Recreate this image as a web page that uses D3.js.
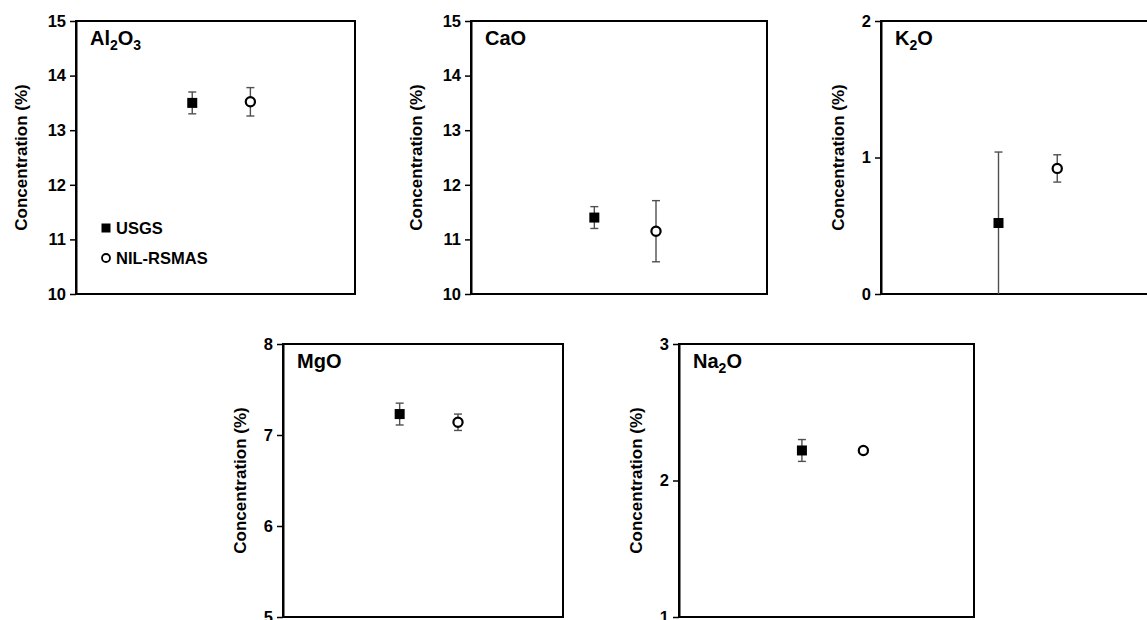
<!DOCTYPE html>
<html>
<head>
<meta charset="utf-8">
<title>Oxide concentrations, USGS vs NIL-RSMAS</title>
<style>
  body { margin: 0; background: #ffffff; }
  svg { display: block; font-family: Arial, "Liberation Sans", sans-serif; font-weight: bold; }
  .axis path, .axis line { stroke: #000; }
  .axis path { stroke-width: 2; }
  .axis line { stroke-width: 1.5; }
  .frame { fill: none; stroke: #000; stroke-width: 2; }
  .err { stroke: #505050; stroke-width: 1.4; }
</style>
</head>
<body>
<div id="chart"></div>
<script src="https://cdn.jsdelivr.net/npm/d3@7"></script>
<script>

// oxides shown, one panel each
var oxides = ["Al2O3", "CaO", "K2O", "MgO", "Na2O"]

// USGS reference values and their uncertainty (%)
var usgsMean = [13.50, 11.40, 0.52, 7.23, 2.22]
var usgsErr  = [0.20, 0.20, 0.52, 0.12, 0.08]

// NIL-RSMAS measured values and their uncertainty (%)
var nilMean = [13.52, 11.15, 0.92, 7.14, 2.22]
var nilErr  = [0.26, 0.56, 0.10, 0.09, 0.02]

// y axis range and tick labels per panel
var yDomains = [[10, 15], [10, 15], [0, 2], [5, 8], [1, 3]]
var yTicks = [
  [10, 11, 12, 13, 14, 15],
  [10, 11, 12, 13, 14, 15],
  [0, 1, 2],
  [5, 6, 7, 8],
  [1, 2, 3]
]

var seriesNames = ["USGS", "NIL-RSMAS"]
var seriesX = [2, 3]   // position of the two sources on the hidden x axis

// panel boxes in pixels
var panels = [
  {x: 76, y: 21, w: 279, h: 273},
  {x: 471, y: 21, w: 296, h: 273},
  {x: 881, y: 21, w: 282, h: 273},
  {x: 283, y: 344, w: 280, h: 273},
  {x: 679, y: 344, w: 295, h: 273}
]

var width = 1147,
    height = 620

var svg = d3.select("#chart")
  .append("svg")
  .attr("width", width)
  .attr("height", height)

oxides.forEach(function (name, i) {
  var p = panels[i]

  var x = d3.scaleLinear().domain([0, 4.8]).range([0, p.w])
  var y = d3.scaleLinear().domain(yDomains[i]).range([p.h, 0])

  var g = svg.append("g")
    .attr("transform", "translate(" + p.x + "," + p.y + ")")

  // left axis with outward ticks
  var axis = g.append("g")
    .attr("class", "axis")
    .call(d3.axisLeft(y).tickValues(yTicks[i]).tickSize(6).tickSizeOuter(0).tickPadding(4).tickFormat(d3.format("d")))
  axis.attr("font-family", null).attr("font-size", null)
  axis.selectAll("text")
    .style("font-size", "16.5px")
    .style("font-weight", "bold")
    .style("fill", "#000")

  // box around the plot
  g.append("rect")
    .attr("class", "frame")
    .attr("width", p.w)
    .attr("height", p.h)

  // y label, pushed further out when ticks have two digits
  var digits = String(d3.max(yTicks[i])).length
  g.append("text")
    .attr("transform", "translate(" + (digits > 1 ? -55 : -43) + "," + (p.h / 2) + ") rotate(-90)")
    .attr("text-anchor", "middle")
    .attr("dy", "0.35em")
    .style("font-size", "17px")
    .text("Concentration (%)")

  // panel title, digits drawn as subscripts
  var title = g.append("text")
    .attr("x", 14)
    .attr("y", 29)
    .style("font-size", "20px")
  name.match(/[A-Za-z]+|\d+/g).forEach(function (part) {
    if (/\d/.test(part)) {
      title.append("tspan").attr("dy", 5).style("font-size", "14px").text(part)
    } else {
      title.append("tspan").attr("dy", title.selectAll("tspan").size() ? -5 : 0).text(part)
    }
  })

  var means = [usgsMean[i], nilMean[i]]
  var errs = [usgsErr[i], nilErr[i]]

  means.forEach(function (m, s) {
    var cx = x(seriesX[s])
    var top = y(m + errs[s]),
        bot = y(Math.max(yDomains[i][0], m - errs[s]))

    // error bar with caps
    g.append("line").attr("class", "err")
      .attr("x1", cx).attr("x2", cx).attr("y1", top).attr("y2", bot)
    g.append("line").attr("class", "err")
      .attr("x1", cx - 4).attr("x2", cx + 4).attr("y1", top).attr("y2", top)
    if (m - errs[s] > yDomains[i][0]) {
      g.append("line").attr("class", "err")
        .attr("x1", cx - 4).attr("x2", cx + 4).attr("y1", bot).attr("y2", bot)
    }

    // marker
    if (s === 0) {
      g.append("rect")
        .attr("x", cx - 5).attr("y", y(m) - 5)
        .attr("width", 10).attr("height", 10)
        .attr("fill", "#000")
    } else {
      g.append("circle")
        .attr("cx", cx).attr("cy", y(m)).attr("r", 4.6)
        .attr("fill", "#fff")
        .attr("stroke", "#000")
        .attr("stroke-width", 2.2)
    }
  })

  // legend lives in the first panel
  if (i === 0) {
    var legend = g.append("g").attr("transform", "translate(30,207)")
    legend.selectAll("g")
      .data(seriesNames)
      .enter().append("g")
      .attr("transform", function (d, k) { return "translate(0," + (k * 30) + ")" })
      .each(function (d, k) {
        var item = d3.select(this)
        if (k === 0) {
          item.append("rect").attr("x", -4.5).attr("y", -4.5).attr("width", 9).attr("height", 9).attr("fill", "#000")
        } else {
          item.append("circle").attr("r", 4).attr("fill", "#fff").attr("stroke", "#000").attr("stroke-width", 1.8)
        }
        item.append("text")
          .attr("x", 10)
          .attr("dy", "0.36em")
          .style("font-size", "16.5px")
          .text(d)
      })
  }
})

</script>
</body>
</html>
